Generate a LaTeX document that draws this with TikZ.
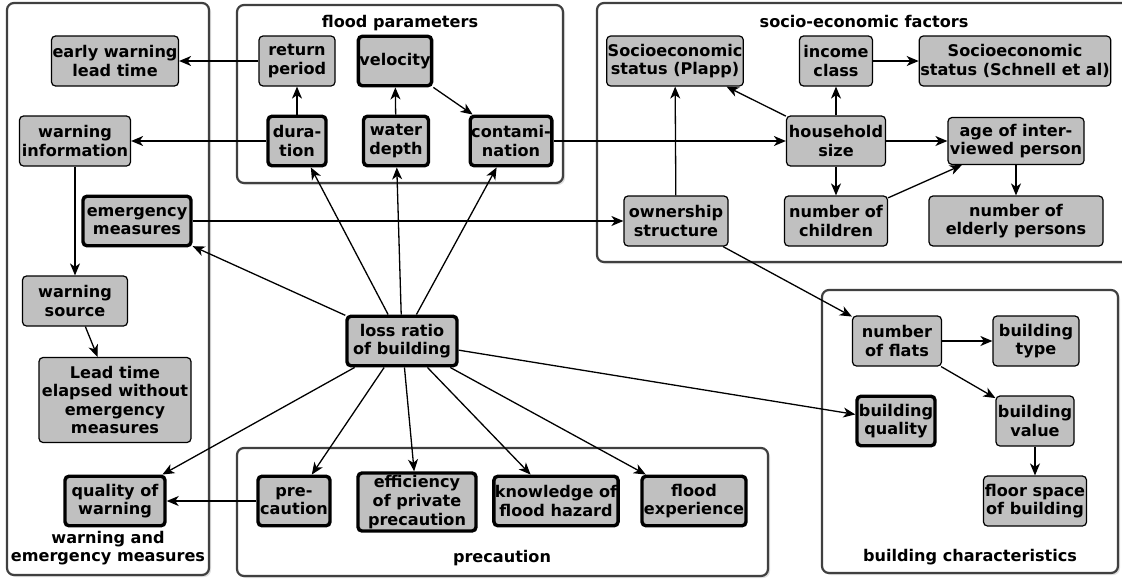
\documentclass[tikz,border=0pt]{standalone}
\usepackage{fontspec}
\setmainfont{DejaVu Sans}
\usetikzlibrary{arrows.meta, shadows}
\definecolor{boxgray}{RGB}{192,192,192}
\definecolor{framegray}{RGB}{64,64,64}

\begin{document}
\begin{tikzpicture}[x=1pt, y=-1pt,
    font=\fontsize{16.1pt}{18.6pt}\selectfont\bfseries,
    factor/.style={draw, fill=boxgray, rounded corners=4pt, line width=1.2pt, align=center, inner sep=1pt, minimum height=50pt},
    keyfactor/.style={factor, line width=3.4pt, minimum height=49.5pt},
    group/.style={draw=framegray, fill=white, line width=2.2pt, rounded corners=7pt, drop shadow={shadow xshift=2pt, shadow yshift=-2pt, opacity=0.25}},
    link/.style={-{Stealth[length=12pt, width=10pt, inset=3.5pt]}, line width=1.3pt}]
    \useasboundingbox (0,0) rectangle (1122,579);

    % Groups
    \draw[group] (7,3) rectangle (209,575);
    \draw[group] (237,5) rectangle (563,183);
    \draw[group] (597,3) rectangle (1135,262);
    \draw[group] (237,448) rectangle (768,576);
    \draw[group] (822,290) rectangle (1118,573);
    \node[align=center] (lblwarn) at (108,548) {warning and\\emergency measures};
    \node (lblflood) at (400,23) {flood parameters};
    \node (lblsocio) at (864,21) {socio-economic factors};
    \node (lblprec) at (502,558) {precaution};
    \node (lblbuild) at (970,557) {building characteristics};

    % Warning and emergency measures
    \node[factor, minimum width=126pt] (ewl) at (115,61) {early warning\\lead time};
    \node[factor, minimum width=111pt] (winfo) at (75,141) {warning\\information};
    \node[keyfactor, minimum width=108pt] (emerg) at (137,221) {emergency\\measures};
    \node[factor, minimum width=105pt] (wsrc) at (75,301) {warning\\source};
    \node[factor, minimum width=152pt, minimum height=85pt] (leadel) at (115,400) {Lead time\\elapsed without\\emergency\\measures};
    \node[keyfactor, minimum width=100pt] (qual) at (115,501) {quality of\\warning};

    % Flood parameters
    \node[factor, minimum width=76pt] (retp) at (297,61) {return\\period};
    \node[keyfactor, minimum width=73pt] (velo) at (395,61) {velocity};
    \node[keyfactor, minimum width=58pt] (dura) at (297,141) {dura-\\tion};
    \node[keyfactor, minimum width=65pt] (wdepth) at (396,141) {water\\depth};
    \node[keyfactor, minimum width=81pt] (contam) at (511,141) {contami-\\nation};

    % Socio-economic factors
    \node[factor, minimum width=135pt] (plapp) at (675,61) {Socioeconomic\\status (Plapp)};
    \node[factor, minimum width=73pt] (income) at (836,61) {income\\class};
    \node[factor, minimum width=190pt] (schnell) at (1015,61) {Socioeconomic\\status (Schnell et al)};
    \node[factor, minimum width=99pt] (hhsize) at (836,141) {household\\size};
    \node[factor, minimum width=136pt, minimum height=47pt] (age) at (1016,141) {age of inter-\\viewed person};
    \node[factor, minimum width=104pt] (owner) at (676,221) {ownership\\structure};
    \node[factor, minimum width=103pt] (children) at (836,221) {number of\\children};
    \node[factor, minimum width=174pt] (elderly) at (1016,221) {number of\\elderly persons};

    % Central node
    \node[keyfactor, minimum width=110pt] (loss) at (402,341) {loss ratio\\of building};

    % Precaution
    \node[keyfactor, minimum width=72pt] (precau) at (294,501) {pre-\\caution};
    \node[keyfactor, minimum width=118pt, minimum height=58pt] (effic) at (417,502) {efficiency\\of private\\precaution};
    \node[keyfactor, minimum width=124pt] (knowl) at (556,501) {knowledge of\\flood hazard};
    \node[keyfactor, minimum width=104pt] (fexp) at (694,501) {flood\\experience};

    % Building characteristics
    \node[factor, minimum width=89pt] (flats) at (897,341) {number\\of flats};
    \node[factor, minimum width=86pt] (btype) at (1036,341) {building\\type};
    \node[keyfactor, minimum width=78pt] (bqual) at (896,421) {building\\quality};
    \node[factor, minimum width=78pt] (bvalue) at (1035,421) {building\\value};
    \node[factor, minimum width=103pt] (fspace) at (1035,501) {floor space\\of building};

    % Influences
    \foreach \dst in {emerg, dura, wdepth, contam, qual, precau, effic, knowl, fexp, bqual}
        \draw[link] (loss) -- (\dst);
    \foreach \src/\dst in {retp/ewl, dura/retp, dura/winfo, wdepth/velo, velo/contam,
        contam/hhsize, winfo/wsrc, wsrc/leadel, emerg/owner, precau/qual,
        owner/plapp, owner/flats, hhsize/plapp, hhsize/income, income/schnell,
        hhsize/age, hhsize/children, children/age, age/elderly,
        flats/btype, flats/bvalue, bvalue/fspace}
        \draw[link] (\src) -- (\dst);
\end{tikzpicture}
\end{document}
